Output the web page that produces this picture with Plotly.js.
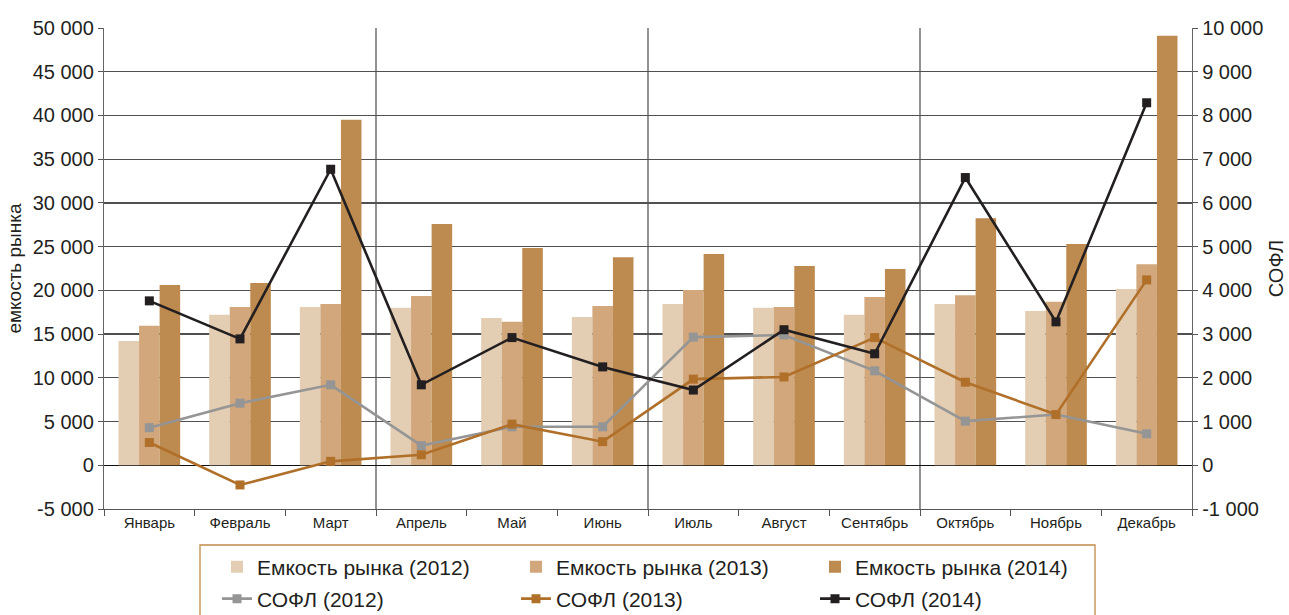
<!DOCTYPE html>
<html>
<head>
<meta charset="utf-8">
<script src="https://cdn.plot.ly/plotly-3.0.1.min.js"></script>
<style>html,body{margin:0;padding:0;background:#fff;}#chart{width:1289px;height:615px;}</style>
</head>
<body>
<div id="chart"></div>
<script>
const months = ['Январь','Февраль','Март','Апрель','Май','Июнь','Июль','Август','Сентябрь','Октябрь','Ноябрь','Декабрь'];

const market2012 = [14200, 17200, 18100, 18000, 16850, 16950, 18450, 18000, 17200, 18450, 17650, 20150];
const market2013 = [15950, 18100, 18450, 19350, 16400, 18200, 20050, 18100, 19250, 19450, 18700, 23000];
const market2014 = [20600, 20850, 39500, 27600, 24850, 23800, 24150, 22800, 22450, 28250, 25300, 49100];

const sofl2012 = [860, 1420, 1840, 450, 880, 880, 2930, 2980, 2160, 1010, 1160, 720];
const sofl2013 = [520, -450, 90, 240, 940, 540, 1970, 2020, 2920, 1900, 1160, 4240];
const sofl2014 = [3760, 2890, 6770, 1840, 2920, 2250, 1720, 3100, 2550, 6580, 3280, 8290];

const leftTickVals = [-5000, 0, 5000, 10000, 15000, 20000, 25000, 30000, 35000, 40000, 45000, 50000];
const leftTickText = ['-5 000', '0', '5 000', '10 000', '15 000', '20 000', '25 000', '30 000', '35 000', '40 000', '45 000', '50 000'];
const rightTickVals = [-1000, 0, 1000, 2000, 3000, 4000, 5000, 6000, 7000, 8000, 9000, 10000];
const rightTickText = ['-1 000', '0', '1 000', '2 000', '3 000', '4 000', '5 000', '6 000', '7 000', '8 000', '9 000', '10 000'];

const quarterBounds = [2.5, 5.5, 8.5];

const font = 'Liberation Sans, Arial, Helvetica, sans-serif';

const barColors = ['#E3CEB3', '#D1A77B', '#BD8A4F'];
const lineColors = ['#959595', '#B0702A', '#231F20'];

function bar(name, y, color) {
  return {type: 'bar', name: name, x: months, y: y, yaxis: 'y', legend: 'legend',
    marker: {color: color, line: {width: 0}}, hoverinfo: 'y'};
}
function line(name, y, color) {
  return {type: 'scatter', mode: 'lines+markers', name: name, x: months, y: y, yaxis: 'y2', legend: 'legend2',
    line: {color: color, width: 2.6}, marker: {symbol: 'square', size: 9, color: color}};
}

const data = [
  bar('Емкость рынка (2012)', market2012, barColors[0]),
  bar('Емкость рынка (2013)', market2013, barColors[1]),
  bar('Емкость рынка (2014)', market2014, barColors[2]),
  line('СОФЛ (2012)', sofl2012, lineColors[0]),
  line('СОФЛ (2013)', sofl2013, lineColors[1]),
  line('СОФЛ (2014)', sofl2014, lineColors[2])
];

const shapes = quarterBounds.map(v => ({
  type: 'line', xref: 'x', yref: 'paper', x0: v, x1: v, y0: 0, y1: 1,
  line: {color: '#4a4a4a', width: 1.2}, layer: 'below'
}));
// legend frame
shapes.push({
  type: 'rect', xref: 'paper', yref: 'paper',
  x0: (200 - 104) / 1088, x1: (1095 - 104) / 1088,
  y0: (509 - 545) / 481, y1: (509 - 625) / 481,
  line: {color: '#C08A48', width: 1.3}, fillcolor: 'rgba(0,0,0,0)', layer: 'above'
});

const legendCommon = {
  orientation: 'h', xref: 'container', yref: 'container',
  x: 217 / 1289, xanchor: 'left', yanchor: 'middle',
  borderwidth: 0, bgcolor: 'rgba(0,0,0,0)',
  font: {family: font, size: 21, color: '#231F20'},
  entrywidth: 254, traceorder: 'normal', itemwidth: 30
};

const layout = {
  width: 1289, height: 615,
  margin: {l: 104, r: 97, t: 28, b: 106, autoexpand: false},
  paper_bgcolor: '#fff', plot_bgcolor: '#fff',
  font: {family: font, color: '#231F20', size: 19},
  barmode: 'group', bargap: 0.32, bargroupgap: 0,
  showlegend: true,
  legend: Object.assign({}, legendCommon, {y: (615 - 567) / 615}),
  legend2: Object.assign({}, legendCommon, {y: (615 - 599) / 615}),
  xaxis: {
    type: 'category', range: [-0.5, 11.5], tickson: 'boundaries', ticks: 'outside', ticklen: 6,
    tickcolor: '#555', showgrid: false, showline: true, linecolor: '#555', linewidth: 1.2,
    tickfont: {family: font, size: 15, color: '#231F20'}, zeroline: false, automargin: false
  },
  yaxis: {
    range: [-5000, 50000], tickvals: leftTickVals, ticktext: leftTickText,
    ticks: 'outside', ticklen: 5, tickcolor: '#555', automargin: false,
    showline: true, linecolor: '#666', linewidth: 1.2,
    showgrid: true, gridcolor: '#505050', gridwidth: 1.2,
    zeroline: true, zerolinecolor: '#111', zerolinewidth: 1.4,
    tickfont: {family: font, size: 20, color: '#231F20'},
    title: {text: 'емкость рынка', font: {family: font, size: 19, color: '#231F20'}, standoff: 6}
  },
  yaxis2: {
    overlaying: 'y', side: 'right', range: [-1000, 10000],
    tickvals: rightTickVals, ticktext: rightTickText, automargin: false,
    ticks: 'outside', ticklen: 5, tickcolor: '#555',
    showline: true, linecolor: '#666', linewidth: 1.2,
    showgrid: false, zeroline: false,
    tickfont: {family: font, size: 20, color: '#231F20'},
    title: {text: 'СОФЛ', font: {family: font, size: 20, color: '#231F20'}, standoff: 6}
  },
  shapes: shapes
};

Plotly.newPlot('chart', data, layout, {displayModeBar: false, staticPlot: true});
</script>
</body>
</html>
